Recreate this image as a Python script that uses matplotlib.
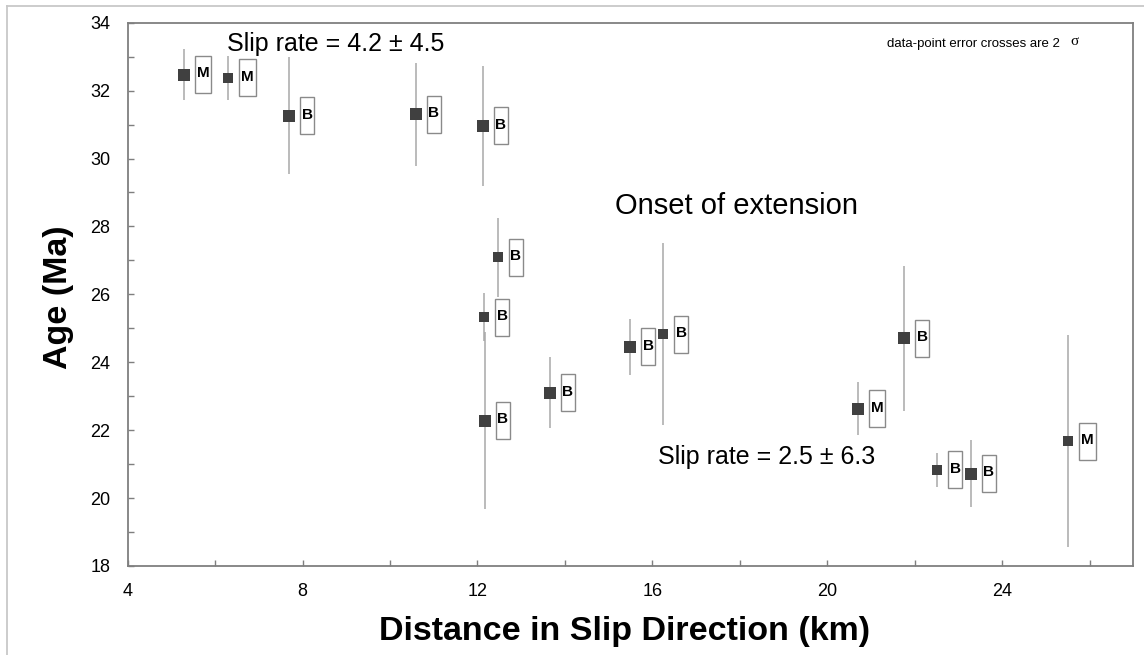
import matplotlib
matplotlib.use('Agg')
import matplotlib.pyplot as plt
import matplotlib.patches as patches
import matplotlib.transforms as mtransforms
from matplotlib.lines import Line2D

plt.rcParams['font.family'] = ['Liberation Sans', 'DejaVu Sans']

# distance in slip direction (km), age (Ma) and 2-sigma error on age
distance = [5.28, 6.30, 7.70, 10.59, 12.12, 12.46, 12.15, 12.17,
            13.65, 15.49, 16.25, 21.76, 20.70, 22.52, 23.28, 25.51]
age = [32.47, 32.38, 31.26, 31.30, 30.96, 27.09, 25.33, 22.28,
       23.10, 24.45, 24.83, 24.70, 22.63, 20.83, 20.72, 21.68]
age_err = [0.75, 0.65, 1.72, 1.52, 1.77, 1.17, 0.71, 2.61,
           1.05, 0.82, 2.69, 2.13, 0.78, 0.51, 0.99, 3.12]
rock = ['M', 'M', 'B', 'B', 'B', 'B', 'B', 'B',
        'B', 'B', 'B', 'B', 'M', 'B', 'B', 'M']
big_marker = [True, False, True, True, True, False, False, True,
              True, True, False, True, True, False, True, False]

x_major = [4, 8, 12, 16, 20, 24]
x_minor = [6, 10, 14, 18, 22, 26]
y_major = [18, 20, 22, 24, 26, 28, 30, 32, 34]
y_minor = [19, 21, 23, 25, 27, 29, 31, 33]

W, H = 1144, 655
fig = plt.figure(figsize=(W / 100, H / 100), dpi=100)
ax = fig.add_axes([127.7 / W, 1 - 566 / H, (1133.3 - 127.7) / W, (566 - 22.7) / H])

spine_col = '#7f7f7f'
for s in ax.spines.values():
    s.set_color(spine_col)
    s.set_linewidth(1.3)

ax.errorbar(distance, age, yerr=age_err, fmt='none', ecolor='#a8a8a8',
            elinewidth=1.1, capsize=0, zorder=2)

for x, y, big in zip(distance, age, big_marker):
    ax.plot(x, y, 's', color='#404040', markeredgewidth=0,
            markersize=8.4 if big else 6.6, zorder=3)

# rock-type label boxes, sized in pixels next to each point
for x, y, lab in zip(distance, age, rock):
    w = 16.5 if lab == 'M' else 14.0
    tr = fig.dpi_scale_trans + mtransforms.ScaledTranslation(x, y, ax.transData)
    ax.add_patch(patches.Rectangle((11 / 100, -18.5 / 100), w / 100, 37 / 100,
                                   transform=tr, facecolor='white',
                                   edgecolor='#8a8a8a', linewidth=1.0, zorder=4))
    ax.annotate(lab, (x, y), xytext=((11 + w / 2) * 0.72, 1.2 * 0.72),
                textcoords='offset points', ha='center', va='center',
                fontsize=11, fontweight='bold', zorder=5)

ax.set_xlim(4, 27)
ax.set_ylim(18, 34)
ax.set_xticks(x_major)
ax.set_xticks(x_minor, minor=True)
ax.set_yticks(y_major)
ax.set_yticks(y_minor, minor=True)
ax.tick_params(which='both', direction='in', length=4, width=1, color=spine_col,
               labelsize=13)
ax.tick_params(axis='y', pad=12.5)
ax.tick_params(axis='x', pad=12.5)

ax.text(6.26, 33.18, 'Slip rate = 4.2 \u00b1 4.5', fontsize=18, va='baseline')
ax.text(15.15, 28.37, 'Onset of extension', fontsize=21, va='baseline')
ax.text(16.13, 21.0, 'Slip rate = 2.5 \u00b1 6.3', fontsize=18, va='baseline')
ax.text(21.37, 33.29, 'data-point error crosses are 2', fontsize=9.5, va='baseline')
ax.text(25.55, 33.33, '\u03c3', fontsize=11, va='baseline',
        family=['Liberation Serif', 'DejaVu Serif'])

fig.text(624.7 / W, 1 - 640 / H, 'Distance in Slip Direction (km)',
         fontsize=24.5, fontweight='bold', ha='center', va='baseline')
fig.text(58.3 / W, 1 - 297 / H, 'Age (Ma)', fontsize=24.5, fontweight='bold',
         rotation=90, ha='center', va='center')

# light frame around the figure
fig.add_artist(Line2D([7.3 / W, 7.3 / W], [0, 1 - 6 / H],
                      transform=fig.transFigure, color='#c8c8c8', lw=1.3))
fig.add_artist(Line2D([7.3 / W, 1], [1 - 6 / H, 1 - 6 / H],
                      transform=fig.transFigure, color='#c8c8c8', lw=1.3))

fig.savefig('out.png', dpi=100)
